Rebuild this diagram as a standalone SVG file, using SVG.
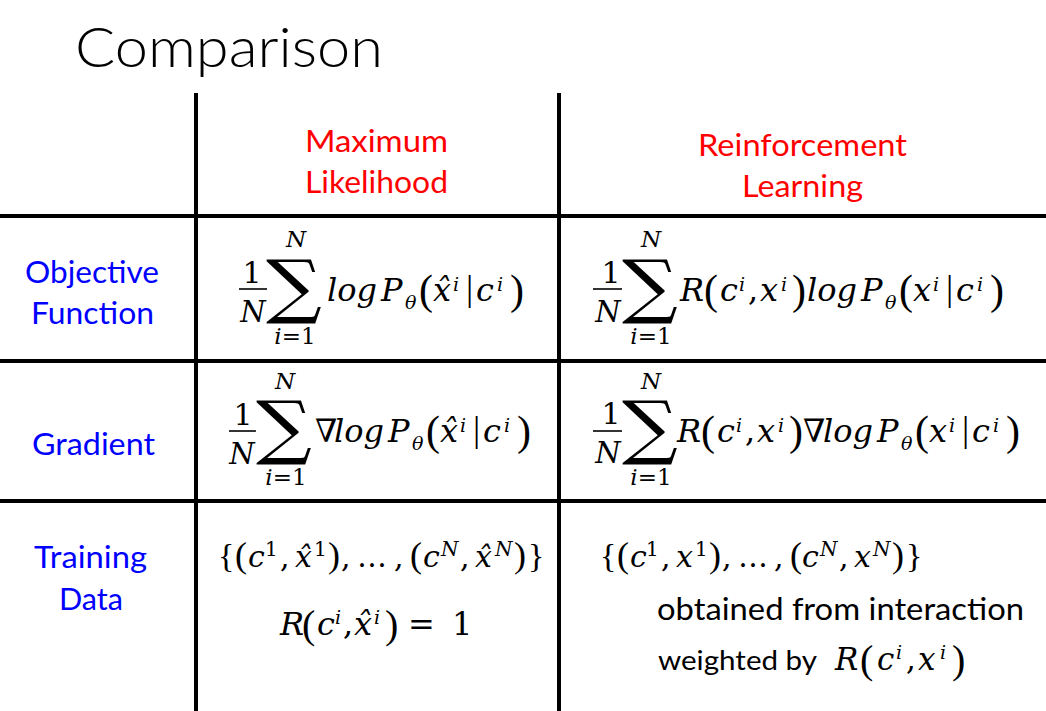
<svg xmlns="http://www.w3.org/2000/svg" width="1046" height="711" viewBox="0 0 1046 711">
<style>
.lbl{font-family:Lato,"Open Sans","Liberation Sans",sans-serif;font-size:31px}
.red{fill:#ff0000}
.blue{fill:#0000ff}
.blk{fill:#000}
.mi{font-family:"DejaVu Serif",serif;font-style:italic;fill:#000}
.mu{font-family:"DejaVu Serif",serif;font-style:normal}
.pa{font-family:"Liberation Serif",serif;font-style:normal}
.sum{font-family:"DejaVu Serif",serif;font-size:68px;fill:#000;text-anchor:middle}
.mid{text-anchor:middle}
.lim{font-size:23px}
.grid line{stroke:#000;stroke-width:4}
.bar{stroke:#000;stroke-width:1.6}
</style>
<rect width="1046" height="711" fill="#fff"/>
<text id="title" x="75" y="67" font-family="Lato,'Open Sans',sans-serif" font-weight="300" font-size="56" textLength="308" lengthAdjust="spacingAndGlyphs">Comparison</text>

<g id="grid" class="grid">
<line x1="196" y1="93" x2="196" y2="711"/>
<line x1="559" y1="93" x2="559" y2="711"/>
<line x1="0" y1="216" x2="1046" y2="216"/>
<line x1="0" y1="361" x2="1046" y2="361"/>
<line x1="0" y1="501" x2="1046" y2="501"/>
</g>

<g id="head-ml">
<text class="lbl red" x="305" y="152" textLength="143" lengthAdjust="spacingAndGlyphs">Maximum</text>
<text class="lbl red" x="305" y="193" textLength="143" lengthAdjust="spacingAndGlyphs">Likelihood</text>
</g>
<g id="head-rl">
<text class="lbl red" x="698" y="156" textLength="209" lengthAdjust="spacingAndGlyphs">Reinforcement</text>
<text class="lbl red" x="742" y="197" textLength="121" lengthAdjust="spacingAndGlyphs">Learning</text>
</g>
<g id="row-objective">
<text class="lbl blue" x="25" y="283" textLength="134" lengthAdjust="spacingAndGlyphs">Objective</text>
<text class="lbl blue" x="31" y="324" textLength="123" lengthAdjust="spacingAndGlyphs">Function</text>
</g>
<g id="row-gradient">
<text class="lbl blue" x="32" y="455" textLength="123" lengthAdjust="spacingAndGlyphs">Gradient</text>
</g>
<g id="row-data">
<text class="lbl blue" x="34" y="568" textLength="113" lengthAdjust="spacingAndGlyphs">Training</text>
<text class="lbl blue" x="59" y="610" textLength="64" lengthAdjust="spacingAndGlyphs">Data</text>
</g>

<!-- ML objective -->
<g id="ml-objective">
<text class="mu" x="252" y="283" font-size="30" text-anchor="middle">1</text>
<line class="bar" x1="239" y1="289" x2="267" y2="289"/>
<text class="mi mid" x="253" y="322" font-size="29">N</text>
<text class="sum" transform="translate(294,310) scale(1.15,1.03)">∑</text>
<text class="mi mid lim" x="296" y="247">N</text>
<text class="mi mid lim" x="295" y="344">i<tspan class="mu">=1</tspan></text>
<text class="mi" font-size="32"><tspan x="327" y="301">log</tspan><tspan x="381" y="301">P</tspan><tspan x="405" y="309" font-size="19">θ</tspan><tspan class="pa" x="419" y="304" font-size="42">(</tspan><tspan x="433" y="301">x̂</tspan><tspan x="453" y="291" font-size="19">i</tspan><tspan class="pa" x="466" y="300" font-size="36">|</tspan><tspan x="476" y="301">c</tspan><tspan x="497" y="291" font-size="19">i</tspan><tspan class="pa" x="510" y="304" font-size="42">)</tspan></text>
</g>

<!-- RL objective -->
<g id="rl-objective">
<text class="mu" x="611" y="283" font-size="30" text-anchor="middle">1</text>
<line class="bar" x1="593" y1="289" x2="622" y2="289"/>
<text class="mi mid" x="608" y="322" font-size="29">N</text>
<text class="sum" transform="translate(650,310) scale(1.15,1.03)">∑</text>
<text class="mi mid lim" x="651" y="247">N</text>
<text class="mi mid lim" x="651" y="344">i<tspan class="mu">=1</tspan></text>
<text class="mi" font-size="32"><tspan x="680" y="301">R</tspan><tspan class="pa" x="704" y="304" font-size="42">(</tspan><tspan x="720" y="301">c</tspan><tspan x="739" y="291" font-size="19">i</tspan><tspan class="mu" x="748" y="301">,</tspan><tspan x="760" y="301">x</tspan><tspan x="781" y="291" font-size="19">i</tspan><tspan class="pa" x="792" y="304" font-size="42">)</tspan><tspan x="807" y="301">log</tspan><tspan x="861" y="301">P</tspan><tspan x="885" y="309" font-size="19">θ</tspan><tspan class="pa" x="899" y="304" font-size="42">(</tspan><tspan x="913" y="301">x</tspan><tspan x="933" y="291" font-size="19">i</tspan><tspan class="pa" x="946" y="300" font-size="36">|</tspan><tspan x="956" y="301">c</tspan><tspan x="977" y="291" font-size="19">i</tspan><tspan class="pa" x="990" y="304" font-size="42">)</tspan></text>
</g>

<!-- ML gradient -->
<g id="ml-gradient">
<text class="mu" x="243" y="425" font-size="30" text-anchor="middle">1</text>
<line class="bar" x1="229" y1="431" x2="256" y2="431"/>
<text class="mi mid" x="242" y="464" font-size="29">N</text>
<text class="sum" transform="translate(284,451) scale(1.15,1.03)">∑</text>
<text class="mi mid lim" x="285" y="389">N</text>
<text class="mi mid lim" x="286" y="485">i<tspan class="mu">=1</tspan></text>
<text class="mi" font-size="32"><tspan x="315" y="442">∇</tspan><tspan x="334" y="442">log</tspan><tspan x="388" y="442">P</tspan><tspan x="412" y="450" font-size="19">θ</tspan><tspan class="pa" x="426" y="445" font-size="42">(</tspan><tspan x="440" y="442">x̂</tspan><tspan x="460" y="432" font-size="19">i</tspan><tspan class="pa" x="473" y="441" font-size="36">|</tspan><tspan x="483" y="442">c</tspan><tspan x="504" y="432" font-size="19">i</tspan><tspan class="pa" x="517" y="445" font-size="42">)</tspan></text>
</g>

<!-- RL gradient -->
<g id="rl-gradient">
<text class="mu" x="611" y="424" font-size="30" text-anchor="middle">1</text>
<line class="bar" x1="593" y1="431" x2="622" y2="431"/>
<text class="mi mid" x="608" y="463" font-size="29">N</text>
<text class="sum" transform="translate(650,451) scale(1.15,1.03)">∑</text>
<text class="mi mid lim" x="651" y="389">N</text>
<text class="mi mid lim" x="651" y="485">i<tspan class="mu">=1</tspan></text>
<text class="mi" font-size="32"><tspan x="677" y="442">R</tspan><tspan class="pa" x="701" y="445" font-size="42">(</tspan><tspan x="717" y="442">c</tspan><tspan x="736" y="432" font-size="19">i</tspan><tspan class="mu" x="745" y="442">,</tspan><tspan x="757" y="442">x</tspan><tspan x="778" y="432" font-size="19">i</tspan><tspan class="pa" x="789" y="445" font-size="42">)</tspan><tspan x="803" y="442">∇</tspan><tspan x="823" y="442">log</tspan><tspan x="877" y="442">P</tspan><tspan x="901" y="450" font-size="19">θ</tspan><tspan class="pa" x="915" y="445" font-size="42">(</tspan><tspan x="929" y="442">x</tspan><tspan x="949" y="432" font-size="19">i</tspan><tspan class="pa" x="962" y="441" font-size="36">|</tspan><tspan x="972" y="442">c</tspan><tspan x="993" y="432" font-size="19">i</tspan><tspan class="pa" x="1006" y="445" font-size="42">)</tspan></text>
</g>

<!-- ML training data -->
<g id="ml-data">
<text class="mi" font-size="30"><tspan class="pa" x="218" y="567" font-size="34">{</tspan><tspan class="pa" x="235" y="567" font-size="36">(</tspan><tspan x="248" y="567">c</tspan><tspan class="mu" x="265" y="556" font-size="20">1</tspan><tspan class="mu" x="280" y="567">,</tspan><tspan x="295" y="567">x̂</tspan><tspan class="mu" x="314" y="556" font-size="20">1</tspan><tspan class="pa" x="328" y="567" font-size="36">)</tspan><tspan class="mu" x="341" y="567">,</tspan><tspan class="mu" x="357" y="567">…</tspan><tspan class="mu" x="394" y="567">,</tspan><tspan class="pa" x="410" y="567" font-size="36">(</tspan><tspan x="423" y="567">c</tspan><tspan x="441" y="556" font-size="20">N</tspan><tspan class="mu" x="460" y="567">,</tspan><tspan x="475" y="567">x̂</tspan><tspan x="495" y="556" font-size="20">N</tspan><tspan class="pa" x="514" y="567" font-size="36">)</tspan><tspan class="pa" x="528" y="567" font-size="34">}</tspan></text>
<text class="mi" font-size="32"><tspan x="280" y="635">R</tspan><tspan class="pa" x="302" y="638" font-size="40">(</tspan><tspan x="317" y="635">c</tspan><tspan x="335" y="624" font-size="19">i</tspan><tspan class="mu" x="343" y="635">,</tspan><tspan x="354" y="635">x̂</tspan><tspan x="374" y="624" font-size="19">i</tspan><tspan class="pa" x="385" y="638" font-size="40">)</tspan><tspan class="mu" x="408" y="635">=</tspan><tspan class="mu" x="452" y="635">1</tspan></text>
</g>

<!-- RL training data -->
<g id="rl-data">
<text class="mi" font-size="30"><tspan class="pa" x="600" y="567" font-size="34">{</tspan><tspan class="pa" x="617" y="567" font-size="36">(</tspan><tspan x="630" y="567">c</tspan><tspan class="mu" x="646" y="556" font-size="20">1</tspan><tspan class="mu" x="661" y="567">,</tspan><tspan x="676" y="567">x</tspan><tspan class="mu" x="695" y="556" font-size="20">1</tspan><tspan class="pa" x="709" y="567" font-size="36">)</tspan><tspan class="mu" x="722" y="567">,</tspan><tspan class="mu" x="738" y="567">…</tspan><tspan class="mu" x="774" y="567">,</tspan><tspan class="pa" x="790" y="567" font-size="36">(</tspan><tspan x="802" y="567">c</tspan><tspan x="820" y="556" font-size="20">N</tspan><tspan class="mu" x="839" y="567">,</tspan><tspan x="854" y="567">x</tspan><tspan x="873" y="556" font-size="20">N</tspan><tspan class="pa" x="892" y="567" font-size="36">)</tspan><tspan class="pa" x="906" y="567" font-size="34">}</tspan></text>
<text class="lbl blk" x="657" y="620" textLength="367" lengthAdjust="spacingAndGlyphs">obtained from interaction</text>
<text class="lbl blk" x="658" y="670" style="font-size:27px" textLength="159" lengthAdjust="spacingAndGlyphs">weighted by</text>
<text class="mi" font-size="31"><tspan x="835" y="670">R</tspan><tspan class="pa" x="860" y="673" font-size="40">(</tspan><tspan x="877" y="670">c</tspan><tspan x="896" y="659" font-size="19">i</tspan><tspan class="mu" x="906" y="670">,</tspan><tspan x="918" y="670">x</tspan><tspan x="940" y="659" font-size="19">i</tspan><tspan class="pa" x="952" y="673" font-size="40">)</tspan></text>
</g>
</svg>
